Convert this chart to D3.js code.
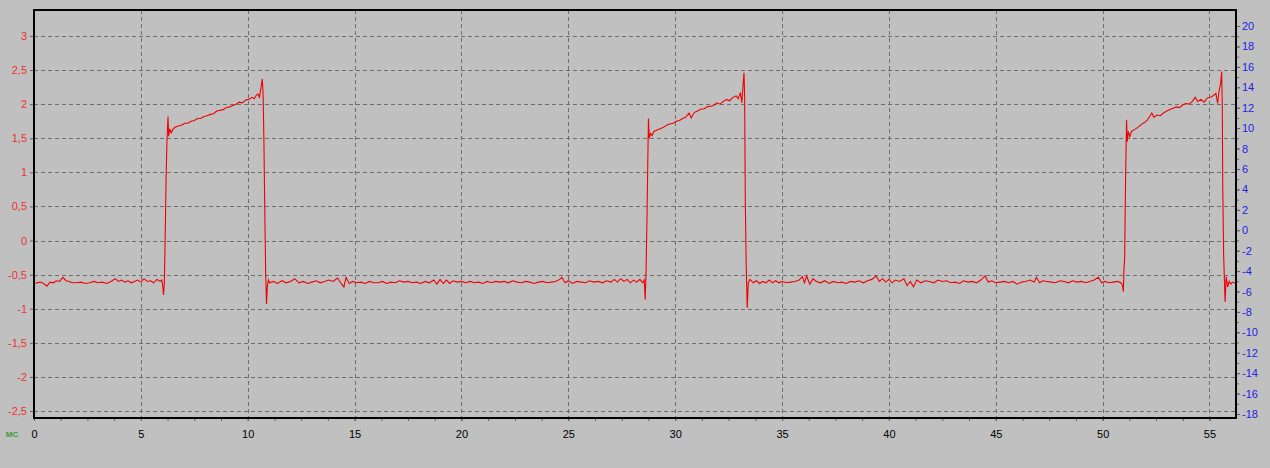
<!DOCTYPE html>
<html><head><meta charset="utf-8">
<script src="https://cdn.jsdelivr.net/npm/d3@7"></script>
<style>
html,body{margin:0;padding:0;background:#c0c0c0;}
svg{display:block;font-family:"Liberation Sans",Arial,sans-serif;}
</style></head><body>
<script>
// ---- data ----
const xTicks = [0,5,10,15,20,25,30,35,40,45,50,55];
const leftTicks = [-2.5,-2,-1.5,-1,-0.5,0,0.5,1,1.5,2,2.5,3];
const rightTicks = [-18,-16,-14,-12,-10,-8,-6,-4,-2,0,2,4,6,8,10,12,14,16,18,20];
const xUnit = "мс";
// time (ms)
const time = [
0,0.15,0.3,0.45,0.6,0.75,0.9,1.05,1.2,1.35,1.5,1.65,1.8,2.0,2.2,2.4,2.6,2.8,3.0,3.2,3.4,3.6,3.8,3.95,4.1,4.25,4.4,4.55,4.7,4.85,5.0,5.15,5.3,5.45,5.6,5.75,5.9,5.98,6.02,6.06,6.1,6.14,6.18,6.22,6.27,6.3,6.35,6.42,6.5,
6.6,6.75,6.9,7.05,7.2,7.35,7.5,7.65,7.8,7.95,8.1,8.25,8.4,8.55,8.7,8.85,9.0,9.15,9.3,9.45,9.6,9.75,9.9,10.05,10.2,10.3,10.4,10.48,10.55,10.62,10.68,10.72,10.76,10.8,10.84,10.88,10.92,10.97,11.02,
11.2,11.4,11.6,11.8,12.0,12.2,12.4,12.6,12.8,13.0,13.2,13.4,13.6,13.8,14.0,14.2,14.35,14.5,14.6,14.75,14.9,15.1,15.3,15.5,15.7,15.9,16.1,16.3,16.5,16.7,16.9,17.1,17.3,17.5,17.7,17.9,18.1,18.3,18.5,18.7,18.85,19.0,19.15,19.3,19.45,19.6,19.8,20.0,20.2,20.4,20.6,20.8,21.0,21.2,21.4,21.6,21.8,22.0,22.2,22.4,22.6,22.8,23.0,23.2,23.4,23.6,23.8,24.0,24.2,24.4,24.6,24.7,24.85,25.0,25.2,25.4,25.6,25.8,26.0,26.2,26.4,26.6,26.8,27.0,27.15,27.3,27.45,27.6,27.75,27.9,28.05,28.2,28.35,28.48,28.55,
28.6,28.64,28.68,28.72,28.75,28.79,28.85,28.92,29.0,29.15,29.3,29.45,29.6,29.75,29.9,30.05,30.2,30.35,30.5,30.65,30.75,30.9,31.05,31.2,31.35,31.5,31.65,31.8,31.95,32.1,32.25,32.4,32.55,32.7,32.85,32.95,33.05,33.12,33.18,33.22,33.25,33.28,33.32,33.37,33.42,33.5,
33.65,33.8,33.95,34.1,34.25,34.4,34.55,34.7,34.85,35.0,35.2,35.4,35.6,35.8,35.95,36.05,36.15,36.3,36.45,36.6,36.8,37.0,37.2,37.4,37.6,37.8,38.0,38.2,38.4,38.6,38.8,39.0,39.2,39.4,39.55,39.7,39.85,40.0,40.15,40.3,40.5,40.7,40.85,41.0,41.15,41.3,41.5,41.7,41.9,42.1,42.3,42.5,42.7,42.9,43.1,43.3,43.5,43.7,43.9,44.1,44.3,44.5,44.65,44.8,45.0,45.2,45.4,45.6,45.8,46.0,46.2,46.4,46.6,46.8,46.9,47.05,47.2,47.4,47.6,47.8,48.0,48.2,48.4,48.6,48.8,49.0,49.2,49.4,49.6,49.8,49.95,50.1,50.3,50.5,50.7,50.85,50.93,
50.97,51.0,51.03,51.05,51.08,51.12,51.15,51.2,51.27,51.35,51.5,51.65,51.8,51.95,52.1,52.2,52.3,52.4,52.55,52.7,52.85,53.0,53.15,53.3,53.45,53.6,53.75,53.9,54.05,54.2,54.33,54.45,54.6,54.75,54.9,55.05,55.2,55.3,55.38,55.45,55.52,55.57,55.6,55.62,55.66,55.73,55.78,55.85,55.92,56.0,56.08,56.24
];
// signal (left axis units)
const signal = [
-0.63,-0.62,-0.61,-0.63,-0.67,-0.61,-0.62,-0.59,-0.6,-0.54,-0.59,-0.6,-0.62,-0.62,-0.61,-0.63,-0.62,-0.6,-0.62,-0.61,-0.63,-0.6,-0.56,-0.6,-0.58,-0.61,-0.59,-0.62,-0.6,-0.58,-0.61,-0.56,-0.6,-0.59,-0.62,-0.57,-0.6,-0.58,-0.66,-0.8,-0.62,0.1,0.9,1.45,1.82,1.53,1.64,1.58,1.63,
1.66,1.68,1.69,1.72,1.72,1.75,1.76,1.79,1.79,1.82,1.83,1.85,1.86,1.9,1.91,1.92,1.95,1.96,1.98,2.0,2.03,2.02,2.06,2.07,2.1,2.08,2.13,2.15,2.1,2.24,2.37,2.15,1.4,0.4,-0.5,-0.93,-0.66,-0.58,-0.62,
-0.6,-0.63,-0.59,-0.62,-0.6,-0.56,-0.62,-0.6,-0.63,-0.61,-0.59,-0.62,-0.6,-0.58,-0.6,-0.55,-0.62,-0.68,-0.54,-0.63,-0.6,-0.62,-0.61,-0.63,-0.6,-0.62,-0.62,-0.6,-0.63,-0.61,-0.62,-0.59,-0.61,-0.6,-0.62,-0.61,-0.63,-0.6,-0.62,-0.58,-0.64,-0.57,-0.63,-0.58,-0.63,-0.59,-0.61,-0.6,-0.62,-0.6,-0.62,-0.61,-0.63,-0.6,-0.62,-0.6,-0.61,-0.6,-0.62,-0.59,-0.61,-0.62,-0.6,-0.61,-0.63,-0.61,-0.6,-0.62,-0.61,-0.6,-0.57,-0.54,-0.62,-0.59,-0.63,-0.6,-0.61,-0.62,-0.59,-0.61,-0.6,-0.62,-0.59,-0.61,-0.57,-0.61,-0.56,-0.6,-0.57,-0.62,-0.58,-0.61,-0.57,-0.62,-0.58,
-0.87,-0.4,0.3,1.2,1.79,1.5,1.57,1.54,1.6,1.62,1.64,1.66,1.69,1.71,1.72,1.75,1.76,1.79,1.81,1.87,1.8,1.88,1.9,1.93,1.93,1.96,1.97,1.98,2.02,2.0,2.04,2.07,2.05,2.1,2.12,2.08,2.17,2.02,2.3,2.46,2.1,0.6,-0.3,-0.99,-0.62,-0.57,
-0.62,-0.59,-0.63,-0.6,-0.62,-0.58,-0.62,-0.59,-0.62,-0.6,-0.62,-0.61,-0.6,-0.58,-0.53,-0.62,-0.52,-0.64,-0.56,-0.6,-0.62,-0.59,-0.63,-0.6,-0.62,-0.61,-0.63,-0.6,-0.61,-0.59,-0.62,-0.59,-0.57,-0.52,-0.6,-0.56,-0.61,-0.57,-0.62,-0.58,-0.6,-0.56,-0.66,-0.6,-0.68,-0.58,-0.62,-0.59,-0.6,-0.62,-0.58,-0.6,-0.59,-0.62,-0.61,-0.63,-0.59,-0.61,-0.6,-0.62,-0.58,-0.52,-0.61,-0.59,-0.62,-0.61,-0.6,-0.62,-0.6,-0.64,-0.61,-0.6,-0.58,-0.61,-0.54,-0.62,-0.59,-0.6,-0.61,-0.62,-0.59,-0.6,-0.62,-0.59,-0.61,-0.6,-0.62,-0.6,-0.58,-0.54,-0.62,-0.6,-0.62,-0.61,-0.6,-0.62,-0.66,
-0.75,-0.4,-0.28,0.3,1.03,1.77,1.45,1.6,1.52,1.6,1.63,1.66,1.7,1.73,1.77,1.82,1.87,1.81,1.84,1.83,1.87,1.9,1.92,1.94,1.96,1.95,1.99,2.01,2.0,2.04,2.1,2.04,2.07,2.03,2.09,2.1,2.13,2.16,2.01,2.2,2.3,2.48,1.9,0.79,-0.2,-0.9,-0.53,-0.68,-0.6,-0.64,-0.61,-0.63
];

// ---- layout ----
const W = 1270, H = 468;
const L = 34, R = 1236, T = 10, B = 418;
const svg = d3.select("body").append("svg").attr("width", W).attr("height", H);
svg.append("rect").attr("width", W).attr("height", H).attr("fill", "#c0c0c0");

const x = d3.scaleLinear().domain([0, 56.24]).range([L, R]);
const yL = d3.scaleLinear().domain([-2.603, 3.381]).range([B, T]);
const yR = d3.scaleLinear().domain([-18.39, 21.57]).range([B, T]);
const fmt = v => String(v).replace(".", ",");

// grid
const grid = svg.append("g").attr("stroke", "#6e6e6e").attr("stroke-width", 1).attr("stroke-dasharray", "4,3");
grid.selectAll(".gh").data(leftTicks).join("line")
  .attr("x1", L).attr("x2", R).attr("y1", d => Math.round(yL(d)) + 0.5).attr("y2", d => Math.round(yL(d)) + 0.5);
grid.selectAll(".gv").data(xTicks.filter(d => d > 0)).join("line")
  .attr("y1", T).attr("y2", B).attr("x1", d => Math.round(x(d)) + 0.5).attr("x2", d => Math.round(x(d)) + 0.5);

// signal
const pts = time.map((t, i) => [t, signal[i]]);
svg.append("path").datum(pts)
  .attr("fill", "none").attr("stroke", "#f00000").attr("stroke-width", 1.1)
  .attr("d", d3.line().x(d => x(d[0])).y(d => yL(d[1])));

// left axis
const axL = svg.append("g").attr("transform", `translate(${L},0)`)
  .call(d3.axisLeft(yL).tickValues(leftTicks).tickSize(4).tickPadding(3).tickFormat(fmt));
axL.select(".domain").remove();
axL.selectAll("line").attr("stroke", "#606060");
axL.selectAll("text").attr("fill", "#f03030").style("font-size", "11px").style("font-family", "'Liberation Sans',Arial,sans-serif");

// right axis minor ticks
const minorR = d3.range(-18, 21, 1);
svg.append("g").attr("transform", `translate(${R},0)`)
  .call(d3.axisRight(yR).tickValues(minorR).tickSize(3).tickFormat(""))
  .call(g => g.select(".domain").remove())
  .selectAll("line").attr("stroke", "#606060");
const axR = svg.append("g").attr("transform", `translate(${R},0)`)
  .call(d3.axisRight(yR).tickValues(rightTicks).tickSize(4).tickPadding(2).tickFormat(fmt));
axR.select(".domain").remove();
axR.selectAll("line").attr("stroke", "#606060");
axR.selectAll("text").attr("fill", "#2020e8").style("font-size", "11px").style("font-family", "'Liberation Sans',Arial,sans-serif");

// bottom axis minor ticks
svg.append("g").attr("transform", `translate(0,${B})`)
  .call(d3.axisBottom(x).tickValues(d3.range(0, 56.2, 1.25)).tickSize(3).tickFormat(""))
  .call(g => g.select(".domain").remove())
  .selectAll("line").attr("stroke", "#606060");
const axB = svg.append("g").attr("transform", `translate(0,${B})`)
  .call(d3.axisBottom(x).tickValues(xTicks).tickSize(3).tickPadding(9).tickFormat(d => d));
axB.select(".domain").remove();
axB.selectAll("line").attr("stroke", "#606060");
axB.selectAll("text").attr("fill", "#000").style("font-size", "11px").style("font-family", "'Liberation Sans',Arial,sans-serif");

// frame
svg.append("rect").attr("x", L).attr("y", T).attr("width", R - L).attr("height", B - T)
  .attr("fill", "none").attr("stroke", "#000").attr("stroke-width", 2);

// unit label
svg.append("text").attr("x", 12).attr("y", 437).attr("text-anchor", "middle")
  .attr("fill", "#3a9a3a").style("font-size", "8px").style("font-weight", "bold").text(xUnit.toUpperCase());
</script>
</body></html>
